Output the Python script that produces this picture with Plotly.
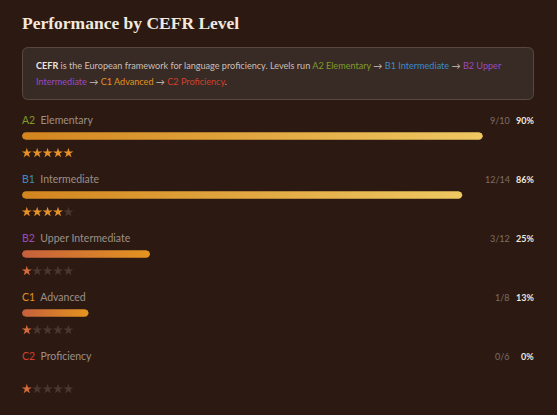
import math
import plotly.graph_objects as go

# ---- data ----
levels = ["A2", "B1", "B2", "C1", "C2"]
names = ["Elementary", "Intermediate", "Upper Intermediate", "Advanced", "Proficiency"]
correct = [9, 12, 3, 1, 0]
totals = [10, 14, 12, 8, 6]
stars = [5, 4, 1, 1, 1]
level_colors = ["#7f9c2c", "#3c8bc9", "#9a4cbf", "#e0921f", "#d2402c"]

W, H = 557, 415
BG = "#2c1a12"
X0, FULL = 22.0, 512.0          # pixel start and full length of 100% bar
PX_PER_PCT = FULL / 100.0

fig = go.Figure()

row_y0, row_step = 120, 59
bar_h = 7.5

def pct_of(c, t):
    return int(math.floor(c / t * 100 + 0.5)) if t else 0

for i, lvl in enumerate(levels):
    yl = row_y0 + i * row_step
    yb = yl + 16
    ys = yl + 33
    pct = pct_of(correct[i], totals[i])
    high = pct >= 50
    cs = [[0, "#d4851d"], [1, "#eec862"]] if high else [[0, "#c65f3c"], [1, "#e4951f"]]
    if pct > 0:
        r = bar_h / 2
        rx = r / PX_PER_PCT
        xs, ys_ = [], []
        for k in range(0, 19):
            a = -math.pi / 2 + math.pi * k / 18
            xs.append(pct - rx + rx * math.cos(a))
            ys_.append(yb + r * math.sin(a))
        for k in range(0, 19):
            a = math.pi / 2 + math.pi * k / 18
            xs.append(rx + rx * math.cos(a))
            ys_.append(yb + r * math.sin(a))
        xs.append(xs[0]); ys_.append(ys_[0])
        fig.add_trace(go.Scatter(
            x=xs, y=ys_, mode="lines", fill="toself", line=dict(width=0),
            fillgradient=dict(type="horizontal", colorscale=cs),
            hoverinfo="skip", showlegend=False, xaxis="x", yaxis="y"))
    # stars
    fill_col = "#e8912a" if high else "#d86b3c"
    cols = [fill_col if k < stars[i] else "#4a3830" for k in range(5)]
    fig.add_trace(go.Scatter(
        x=[26.8 + 10.4 * k for k in range(5)], y=[ys] * 5, mode="markers",
        marker=dict(symbol="star", size=7.5, color=cols, line=dict(width=0)),
        hoverinfo="skip", showlegend=False, xaxis="x2", yaxis="y"))

    # labels
    fig.add_annotation(x=X0 - 2, y=yl, xref="x2", yref="y", xanchor="left", yanchor="middle",
                       text=f"<span style='color:{level_colors[i]}'>{lvl}</span>&nbsp;&nbsp;"
                            f"<span style='color:#9d8f86'>{names[i]}</span>",
                       showarrow=False, font=dict(family="Lato", size=10.5))
    fig.add_annotation(x=512, y=yl, xref="x2", yref="y", xanchor="right", yanchor="middle",
                       text=f"{correct[i]}/{totals[i]}", showarrow=False,
                       font=dict(family="Lato", size=9, color="#7e6d64"))
    fig.add_annotation(x=536, y=yl, xref="x2", yref="y", xanchor="right", yanchor="middle",
                       text=f"<b>{pct}%</b>", showarrow=False,
                       font=dict(family="Lato", size=9, color="#eee6de"))

# title
fig.add_annotation(x=X0 - 2, y=22.5, xref="x2", yref="y", xanchor="left", yanchor="middle",
                   text="<b>Performance by CEFR Level</b>", showarrow=False,
                   font=dict(family="Liberation Serif", size=17.5, color="#f2e8de"))

# info box
bx0, by0, bx1, by1, rr = 22.5, 47.5, 533.5, 99.5, 6
path = (f"M{bx0+rr},{by0} L{bx1-rr},{by0} Q{bx1},{by0} {bx1},{by0+rr} "
        f"L{bx1},{by1-rr} Q{bx1},{by1} {bx1-rr},{by1} L{bx0+rr},{by1} "
        f"Q{bx0},{by1} {bx0},{by1-rr} L{bx0},{by0+rr} Q{bx0},{by0} {bx0+rr},{by0} Z")
fig.add_shape(type="path", path=path, xref="x2", yref="y",
              fillcolor="#382a25", line=dict(color="#58483f", width=1), layer="below")

txt = "#cbbfb6"
def c(s, col):
    return f"<span style='color:{col}'>{s}</span>"
line1 = (f"<b><span style='color:#efe7df'>CEFR</span></b> is the European framework for language proficiency. "
         f"Levels run {c('A2 Elementary', level_colors[0])} → {c('B1 Intermediate', level_colors[1])} → "
         f"{c('B2 Upper', level_colors[2])}")
line2 = (f"{c('Intermediate', level_colors[2])} → {c('C1 Advanced', level_colors[3])} → "
         f"{c('C2 Proficiency', level_colors[4])}.")
fig.add_annotation(x=34, y=65, xref="x2", yref="y", xanchor="left", yanchor="middle",
                   text=line1, showarrow=False, font=dict(family="Lato", size=9.1, color=txt))
fig.add_annotation(x=34, y=81.5, xref="x2", yref="y", xanchor="left", yanchor="middle",
                   text=line2, showarrow=False, font=dict(family="Lato", size=9.1, color=txt))

fig.update_layout(
    width=W, height=H, margin=dict(l=0, r=0, t=0, b=0),
    paper_bgcolor=BG, plot_bgcolor=BG,
    xaxis=dict(range=[-X0 / PX_PER_PCT, (W - X0) / PX_PER_PCT], domain=[0, 1], visible=False, fixedrange=True),
    xaxis2=dict(range=[0, W], overlaying="x", visible=False, fixedrange=True),
    yaxis=dict(range=[H, 0], domain=[0, 1], visible=False, fixedrange=True),
    showlegend=False,
)

fig.write_html("out.html", config={"displayModeBar": False},
               post_script="document.body.style.margin='0';document.body.style.background='#2c1a12';")
